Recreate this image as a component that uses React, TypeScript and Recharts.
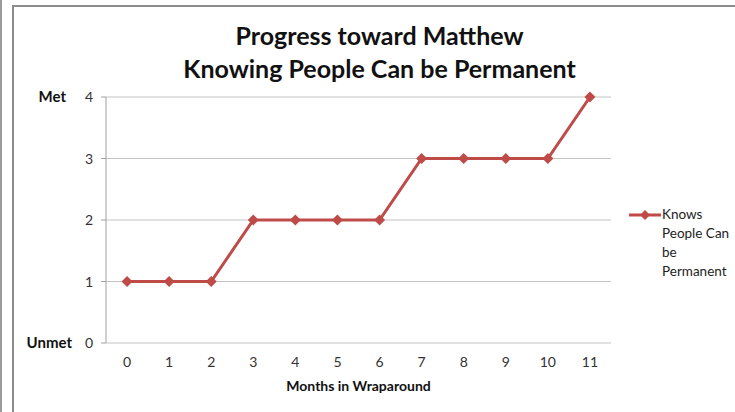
import React from "react";
import {
  LineChart,
  Line,
  XAxis,
  YAxis,
  CartesianGrid,
} from "recharts";

const months = [0, 1, 2, 3, 4, 5, 6, 7, 8, 9, 10, 11];
const progress = [1, 1, 1, 2, 2, 2, 2, 3, 3, 3, 3, 4];
const yTicks = [0, 1, 2, 3, 4];
const yNames: Record<number, string> = { 4: "Met", 0: "Unmet" };
const boundaryTicks = [-0.5, 0.5, 1.5, 2.5, 3.5, 4.5, 5.5, 6.5, 7.5, 8.5, 9.5, 10.5, 11.5];
const seriesName = "Knows People Can be Permanent";

const data = months.map((m, i) => ({ month: m, value: progress[i] }));

const RED = "#BE4B48";
const FONT = "Lato, 'Open Sans', sans-serif";

const Diamond = (props: any) => {
  const { cx, cy } = props;
  if (cx == null || cy == null) return null;
  const r = 5.5;
  return (
    <polygon
      points={`${cx},${cy - r} ${cx + r},${cy} ${cx},${cy + r} ${cx - r},${cy}`}
      fill={RED}
    />
  );
};

const YTick = (props: any) => {
  const { x, y, payload } = props;
  const v = payload.value;
  const name = yNames[v];
  return (
    <g>
      <text x={x - 6} y={y + 5} textAnchor="end" fontSize={14} fill="#333" fontFamily={FONT}>
        {v}
      </text>
      {name && (
        <text
          x={v === 4 ? x - 33 : x - 27}
          y={y + 5}
          textAnchor="end"
          fontSize={15}
          fontWeight="bold"
          fill="#111"
          fontFamily={FONT}
        >
          {name}
        </text>
      )}
    </g>
  );
};

const XLabel = (props: any) => {
  const { x, y, payload } = props;
  return (
    <text x={x} y={y + 16} textAnchor="middle" fontSize={14} fill="#333" fontFamily={FONT}>
      {payload.value}
    </text>
  );
};

export default function App() {
  return (
    <div style={{ position: "absolute", left: 0, top: 0, width: 735, height: 412, background: "#fff", overflow: "hidden" }}>
      <div style={{ position: "absolute", left: 0, top: 0, width: 2, height: 412, background: "#9a9a9a" }} />
      <div
        style={{
          position: "absolute",
          left: 12,
          top: 5,
          width: 740,
          height: 420,
          borderLeft: "2px solid #8c8c8c",
          borderTop: "2px solid #8c8c8c",
        }}
      />
      <div
        style={{
          position: "absolute",
          left: 0,
          width: 735,
          top: 19,
          textAlign: "center",
          fontFamily: FONT,
          fontWeight: "bold",
          fontSize: 25,
          lineHeight: "33px",
          color: "#111",
          paddingLeft: 24,
          boxSizing: "border-box",
        }}
      >
        Progress toward Matthew
        <br />
        Knowing People Can be Permanent
      </div>
      <div
        style={{
          position: "absolute",
          left: 0,
          width: 717,
          top: 377,
          textAlign: "center",
          fontFamily: FONT,
          fontWeight: "bold",
          fontSize: 14,
          color: "#111",
        }}
      >
        Months in Wraparound
      </div>
      <div style={{ position: "absolute", left: 0, top: 0 }}>
        <LineChart width={735} height={412} data={data} margin={{ top: 97, right: 124, bottom: 39, left: 46 }}>
          <CartesianGrid horizontal vertical={false} stroke="#c4c4c4" yAxisId="y" xAxisId="lbl" />
          <XAxis
            xAxisId="lbl"
            dataKey="month"
            type="number"
            domain={[-0.5, 11.5]}
            ticks={months}
            tick={<XLabel />}
            tickLine={false}
            axisLine={false}
            height={30}
            interval={0}
          />
          <XAxis
            xAxisId="bnd"
            dataKey="month"
            type="number"
            domain={[-0.5, 11.5]}
            ticks={boundaryTicks}
            tick={() => null}
            tickLine={{ stroke: "#a0a0a0" }}
            axisLine={{ stroke: "#a0a0a0" }}
            tickSize={5}
            height={0}
            interval={0}
          />
          <YAxis
            yAxisId="y"
            domain={[0, 4]}
            ticks={yTicks}
            tick={<YTick />}
            tickLine={{ stroke: "#a0a0a0" }}
            axisLine={{ stroke: "#a0a0a0" }}
            tickSize={5}
            width={60}
            interval={0}
          />
          <Line
            xAxisId="lbl"
            yAxisId="y"
            type="linear"
            dataKey="value"
            name={seriesName}
            stroke={RED}
            strokeWidth={3}
            dot={<Diamond />}
            activeDot={false}
            isAnimationActive={false}
          />
        </LineChart>
      </div>
      <div
        style={{
          position: "absolute",
          left: 628,
          top: 205,
          display: "flex",
          alignItems: "flex-start",
          fontFamily: FONT,
          fontSize: 13.5,
          color: "#222",
        }}
      >
        <svg width={34} height={14} style={{ marginTop: 3 }}>
          <line x1={1} y1={7} x2={33} y2={7} stroke={RED} strokeWidth={3} />
          <polygon points="17,2 22,7 17,12 12,7" fill={RED} />
        </svg>
        <div style={{ width: 75, lineHeight: "19px" }}>{seriesName}</div>
      </div>
    </div>
  );
}
